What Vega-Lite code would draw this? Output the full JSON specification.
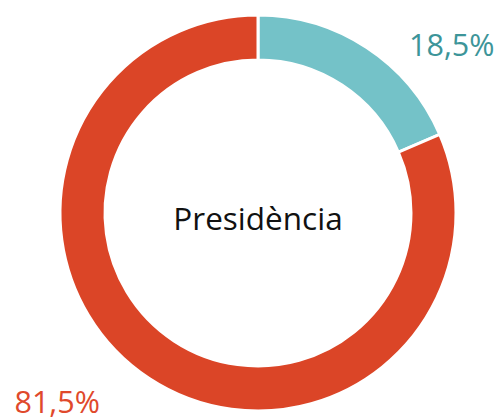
{
  "$schema": "https://vega.github.io/schema/vega-lite/v6.json",
  "width": 516,
  "height": 426,
  "padding": 0,
  "autosize": {"type": "none"},
  "background": "white",
  "config": {"view": {"stroke": null}, "font": "Open Sans"},
  "datasets": {
    "parts": [
      {"cat": "A", "value": 18.5, "label": "18,5%", "order": 1},
      {"cat": "B", "value": 81.5, "label": "81,5%", "order": 2}
    ],
    "center": [{"title": "Presidència"}]
  },
  "layer": [
    {
      "data": {"name": "parts"},
      "mark": {"type": "arc", "outerRadius": 198, "innerRadius": 153, "stroke": "white", "strokeWidth": 3},
      "encoding": {
        "theta": {"field": "value", "type": "quantitative", "stack": true},
        "order": {"field": "order", "type": "quantitative"},
        "color": {"field": "cat", "type": "nominal", "scale": {"domain": ["A", "B"], "range": ["#74c2c8", "#db4527"]}, "legend": null}
      }
    },
    {
      "data": {"name": "parts"},
      "mark": {"type": "text", "radius": 220, "fontSize": 30.5, "align": "center", "baseline": "alphabetic", "dx": 73, "dy": 27, "color": "#3d9599"},
      "encoding": {
        "theta": {"field": "value", "type": "quantitative", "stack": true},
        "order": {"field": "order", "type": "quantitative"},
        "text": {"condition": {"test": "datum.cat === 'A'", "field": "label"}, "value": ""}
      }
    },
    {
      "data": {"name": "parts"},
      "mark": {"type": "text", "radius": 220, "fontSize": 30.5, "align": "center", "baseline": "alphabetic", "dx": -80, "dy": 16, "color": "#e0492c"},
      "encoding": {
        "theta": {"field": "value", "type": "quantitative", "stack": true},
        "order": {"field": "order", "type": "quantitative"},
        "text": {"condition": {"test": "datum.cat === 'B'", "field": "label"}, "value": ""}
      }
    },
    {
      "data": {"name": "center"},
      "mark": {"type": "text", "fontSize": 31.5, "align": "center", "baseline": "alphabetic", "dy": 17, "color": "#111111"},
      "encoding": {
        "text": {"field": "title", "type": "nominal"}
      }
    }
  ]
}
